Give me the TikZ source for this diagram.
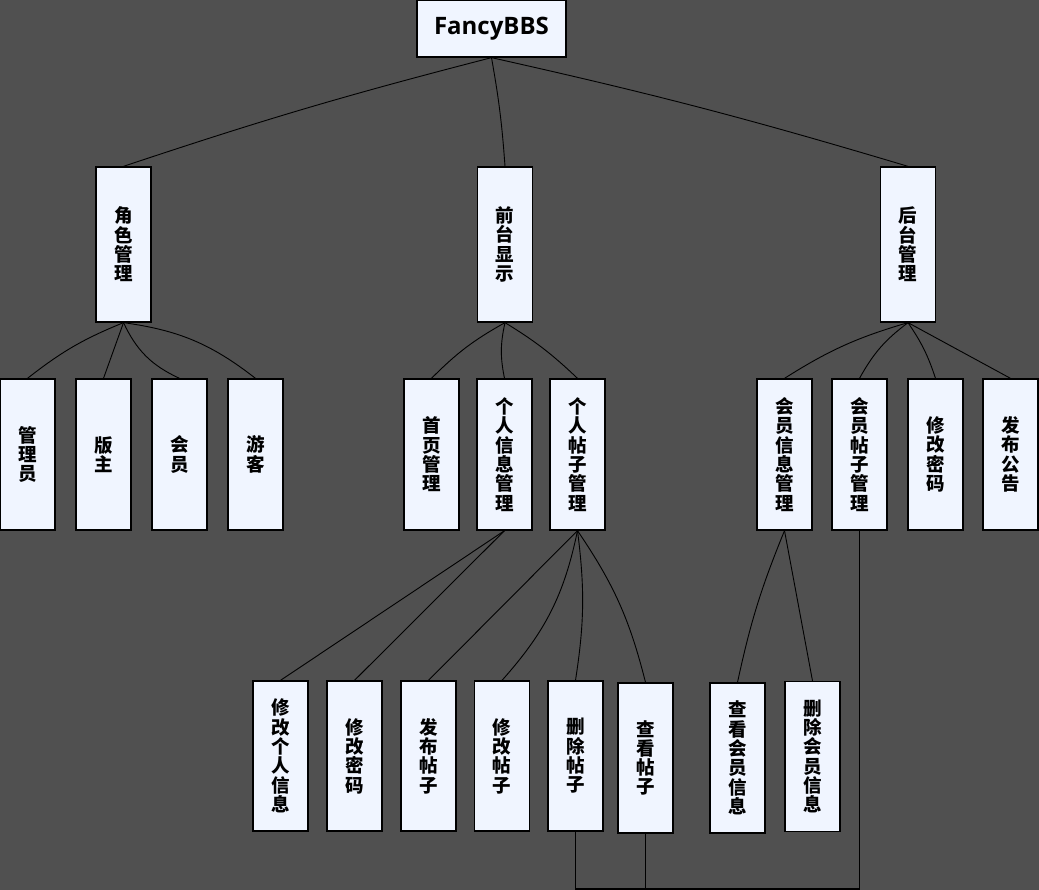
\documentclass[tikz,border=0pt]{standalone}
\usepackage{fontspec}
\setmainfont{Open Sans}
\newfontfamily\cjk{Noto Sans CJK SC}
\definecolor{bgc}{HTML}{505050}
\definecolor{boxc}{HTML}{F0F5FF}
\begin{document}
\begin{tikzpicture}[x=1pt,y=1pt,
  box/.style={draw=black, line width=1.3pt, fill=boxc, inner sep=0pt, align=center,
    font=\cjk\bfseries\fontsize{18.5}{19.3}\selectfont},
  top/.style={box, minimum width=149pt, minimum height=57pt, font=\bfseries\fontsize{24}{28}\selectfont},
  lvone/.style={box, minimum width=55pt, minimum height=155pt},
  lvtwo/.style={box, minimum width=55pt, minimum height=151pt},
  lvthree/.style={box, minimum width=55pt, minimum height=150pt},
  link/.style={draw=black, line width=0.9pt},
  wire/.style={draw=black, line width=1.3pt}]
\useasboundingbox (0,0) rectangle (1039,-890);
\fill[bgc] (0,0) rectangle (1039,-890);

% root
\node[top] (root) at (491.5,-28.5) {FancyBBS};

% first level
\node[lvone] (role)  at (123.5,-244.5) {角\\色\\管\\理};
\node[lvone] (front) at (505,-244.5)   {前\\台\\显\\示};
\node[lvone] (back)  at (908,-244.5)   {后\\台\\管\\理};

% second level
\node[lvtwo] (admin)  at (27.5,-454.5)  {管\\理\\员};
\node[lvtwo] (mod)    at (103.5,-454.5) {版\\主};
\node[lvtwo] (member) at (179.5,-454.5) {会\\员};
\node[lvtwo] (guest)  at (255.5,-454.5) {游\\客};
\node[lvtwo] (home)   at (431.5,-454.5) {首\\页\\管\\理};
\node[lvtwo] (pinfo)  at (504.5,-454.5) {个\\人\\信\\息\\管\\理};
\node[lvtwo] (ppost)  at (577.5,-454.5) {个\\人\\帖\\子\\管\\理};
\node[lvtwo] (minfo)  at (784.5,-454.5) {会\\员\\信\\息\\管\\理};
\node[lvtwo] (mpost)  at (859.5,-454.5) {会\\员\\帖\\子\\管\\理};
\node[lvtwo] (pwd)    at (935.5,-454.5) {修\\改\\密\\码};
\node[lvtwo] (notice) at (1010.5,-454.5) {发\\布\\公\\告};

% third level
\node[lvthree] (editinfo) at (280.5,-756) {修\\改\\个\\人\\信\\息};
\node[lvthree] (editpwd)  at (354.5,-756) {修\\改\\密\\码};
\node[lvthree] (newpost)  at (428.5,-756) {发\\布\\帖\\子};
\node[lvthree] (editpost) at (502,-756)   {修\\改\\帖\\子};
\node[lvthree] (delpost)  at (575.5,-756) {删\\除\\帖\\子};
\node[lvthree] (viewpost) at (645.5,-758) {查\\看\\帖\\子};
\node[lvthree] (viewmem)  at (737.5,-758) {查\\看\\会\\员\\信\\息};
\node[lvthree] (delmem)   at (812.5,-756.5) {删\\除\\会\\员\\信\\息};

% tree connectors
\draw[link] (root.south) to[bend right=2] (role.north);
\draw[link] (root.south) to[bend left=3] (front.north);
\draw[link] (root.south) to[bend left=2] (back.north);

\draw[link] (role.south) to[bend right=8] (admin.north);
\draw[link] (role.south) to (mod.north);
\draw[link] (role.south) to[bend right=20] (member.north);
\draw[link] (role.south) to[bend left=15] (guest.north);

\draw[link] (front.south) to[bend right=8] (home.north);
\draw[link] (front.south) to[bend right=12] (pinfo.north);
\draw[link] (front.south) to[bend left=6] (ppost.north);

\draw[link] (back.south) to[bend right=8] (minfo.north);
\draw[link] (back.south) to[bend right=12] (mpost.north);
\draw[link] (back.south) to[bend left=8] (pwd.north);
\draw[link] (back.south) to (notice.north);

\draw[link] (pinfo.south) to (editinfo.north);
\draw[link] (pinfo.south) to (editpwd.north);
\draw[link] (ppost.south) to (newpost.north);
\draw[link] (ppost.south) to[bend left=15] (editpost.north);
\draw[link] (ppost.south) to[bend left=8] (delpost.north);
\draw[link] (ppost.south) to[bend left=10] (viewpost.north);

\draw[link] (minfo.south) to[bend right=5] (viewmem.north);
\draw[link] (minfo.south) to (delmem.north);

% bottom wiring
\coordinate (floor) at (859.5,-889);
\draw[wire] (delpost.south) -- (delpost.south |- floor) -- (floor) -- (mpost.south);
\draw[wire] (viewpost.south) -- (viewpost.south |- floor);
\end{tikzpicture}
\end{document}
